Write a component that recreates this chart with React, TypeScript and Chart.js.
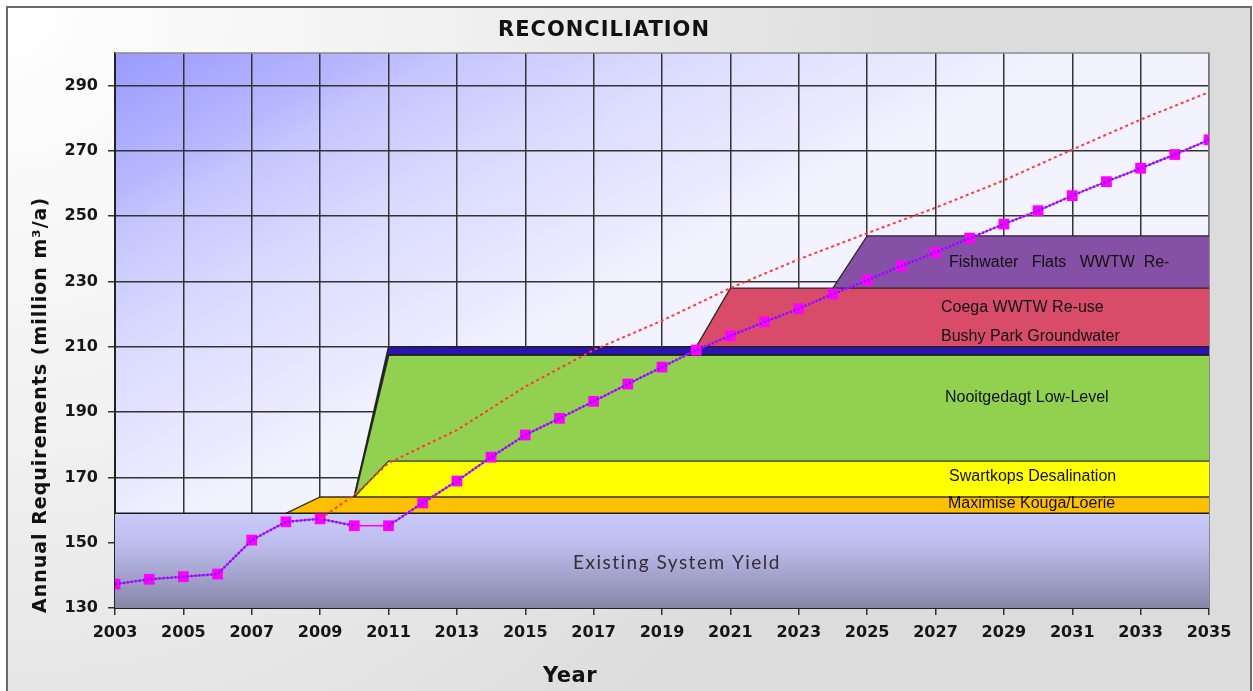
import React, { useEffect, useRef } from "react";
import { Chart, registerables } from "chart.js";

Chart.register(...registerables);

// ---------- data ----------
const demandYears = [
  2003, 2004, 2005, 2006, 2007, 2008, 2009, 2010, 2011, 2012, 2013, 2014, 2015, 2016, 2017, 2018, 2019,
  2020, 2021, 2022, 2023, 2024, 2025, 2026, 2027, 2028, 2029, 2030, 2031, 2032, 2033, 2034, 2035,
];
const demand = [
  137.3, 138.8, 139.6, 140.4, 150.8, 156.4, 157.3, 155.2, 155.2, 162.2, 168.9, 176.2, 183.0, 188.1, 193.3,
  198.6, 203.8, 209.0, 213.4, 217.6, 221.7, 226.2, 230.4, 234.8, 238.9, 243.3, 247.6, 251.7, 256.3, 260.6,
  264.7, 268.9, 273.4,
];
const highYears = [2009, 2010, 2011, 2013, 2015, 2017, 2019, 2021, 2023, 2025, 2027, 2029, 2031, 2033, 2035];
const highDemand = [157.3, 164.6, 174.4, 184.5, 197.8, 209.0, 218.0, 228.0, 236.8, 244.8, 252.6, 261.0, 270.4, 279.6, 288.0];

const existingYears = [2003, 2035];
const existingTop = [159, 159];
const kougaYears = [2008, 2009, 2035];
const kougaTop = [159, 164, 164];
const swartkopsYears = [2010, 2011, 2035];
const swartkopsTop = [164, 175, 175];
const nooitgedagtYears = [2010, 2011, 2035];
const nooitgedagtTop = [164, 207.5, 207.5];
const bushyYears = [2010, 2011, 2035];
const bushyTop = [164, 210, 210];
const coegaYears = [2020, 2021, 2035];
const coegaTop = [210, 228, 228];
const fishwaterYears = [2024, 2025, 2035];
const fishwaterTop = [228, 244, 244];

const yTicks = [130, 150, 170, 190, 210, 230, 250, 270, 290];
const xMin = 2003;
const xMax = 2035;
const yMin = 130;
const yMax = 300;

const chartTitle = "RECONCILIATION";
const xTitle = "Year";
const yTitle = "Annual Requirements (million m³/a)";

const toPoints = (xs: number[], ys: number[]) => xs.map((x, i) => ({ x, y: ys[i] }));

const W = 1253;
const H = 691;

const backgroundPlugin = {
  id: "bgPlugin",
  beforeDraw(chart: any) {
    const { ctx, chartArea: a } = chart;
    ctx.save();
    ctx.fillStyle = "#ffffff";
    ctx.fillRect(0, 0, W, H);
    const rg = ctx.createRadialGradient(7, 7, 0, 7, 7, 950);
    rg.addColorStop(0, "#ffffff");
    rg.addColorStop(0.45, "#f1f1f1");
    rg.addColorStop(1, "#dcdcdc");
    ctx.fillStyle = rg;
    ctx.fillRect(7, 7, W - 9, H);
    ctx.strokeStyle = "#6a6a6a";
    ctx.lineWidth = 2;
    ctx.strokeRect(7, 7, 1244, 720);

    const lg = ctx.createLinearGradient(a.left, a.top, a.left + 211, a.top + 397);
    lg.addColorStop(0, "#9a9aff");
    lg.addColorStop(0.28, "#b8b8ff");
    lg.addColorStop(0.36, "#c6c6ff");
    lg.addColorStop(0.59, "#dadaff");
    lg.addColorStop(0.87, "#eaeaff");
    lg.addColorStop(1, "#f3f3ff");
    ctx.fillStyle = lg;
    ctx.fillRect(a.left, a.top, a.right - a.left, a.bottom - a.top);
    ctx.restore();
  },
  beforeDatasetsDraw(chart: any) {
    const { ctx, chartArea: a } = chart;
    ctx.save();
    ctx.strokeStyle = "#8a8a8a";
    ctx.lineWidth = 1.5;
    ctx.beginPath();
    ctx.moveTo(a.left, a.top);
    ctx.lineTo(a.right, a.top);
    ctx.lineTo(a.right, a.bottom);
    ctx.stroke();
    ctx.restore();
  },
  afterDatasetsDraw(chart: any) {
    const { ctx } = chart;
    ctx.save();
    ctx.textBaseline = "middle";
    ctx.textAlign = "left";
    ctx.fillStyle = "#111111";
    ctx.font = '16px "Liberation Sans", Arial, sans-serif';
    ctx.fillText("Fishwater   Flats   WWTW  Re-", 949, 263);
    ctx.fillText("Coega WWTW Re-use", 941, 308);
    ctx.fillText("Bushy Park Groundwater", 941, 337);
    ctx.fillText("Nooitgedagt Low-Level", 945, 398);
    ctx.fillText("Swartkops Desalination", 949, 477);
    ctx.fillText("Maximise Kouga/Loerie", 948, 504);

    ctx.textAlign = "center";
    ctx.fillStyle = "#3a2c36";
    ctx.font = '19px Lato, sans-serif';
    (ctx as any).letterSpacing = "1.5px";
    ctx.fillText("Existing System Yield", 677, 563);
    ctx.restore();
  },
  afterDraw(chart: any) {
    const { ctx } = chart;
    ctx.save();
    ctx.fillStyle = "#111111";
    ctx.textAlign = "center";
    ctx.textBaseline = "alphabetic";
    (ctx as any).letterSpacing = "1px";
    ctx.font = 'bold 21px "DejaVu Sans", sans-serif';
    ctx.fillText(chartTitle, 604, 36);
    (ctx as any).letterSpacing = "0.5px";
    ctx.font = 'bold 21px "DejaVu Sans", sans-serif';
    ctx.fillText(xTitle, 570, 682);
    ctx.translate(46, 405);
    ctx.rotate(-Math.PI / 2);
    (ctx as any).letterSpacing = "1px";
    ctx.font = 'bold 19px "DejaVu Sans", sans-serif';
    ctx.fillText(yTitle, 0, 0);
    ctx.restore();
  },
};

const areaStyle = (color: string, fill: any) => ({
  type: "line" as const,
  backgroundColor: color,
  borderColor: "rgba(30,30,30,0.9)",
  borderWidth: 1.3,
  pointRadius: 0,
  fill,
  tension: 0,
});

export default function App() {
  const ref = useRef<HTMLCanvasElement | null>(null);

  useEffect(() => {
    if (!ref.current) return;
    const existingGradient = (c: any) => {
      const chart = c.chart;
      const { chartArea, scales } = chart;
      if (!chartArea || !scales.y) return "#b4b4e4";
      const g = chart.ctx.createLinearGradient(0, scales.y.getPixelForValue(159), 0, chartArea.bottom);
      g.addColorStop(0, "#cbcbfb");
      g.addColorStop(0.35, "#bcbcec");
      g.addColorStop(1, "#8686a8");
      return g;
    };

    const chart = new Chart(ref.current, {
      type: "line",
      data: {
        datasets: [
          {
            label: "High demand",
            data: toPoints(highYears, highDemand),
            borderColor: "#ff3b3b",
            borderWidth: 2,
            borderDash: [3, 3],
            pointRadius: 0,
            fill: false,
          },
          {
            label: "Demand (dots)",
            data: toPoints(demandYears, demand),
            borderColor: "#6a1cff",
            borderWidth: 2.5,
            borderDash: [2, 2],
            pointRadius: 0,
            fill: false,
            segment: {
              borderColor: (c: any) => (c.p0.parsed.x === 2010 ? "rgba(0,0,0,0)" : "#6a1cff"),
            },
          },
          {
            label: "Demand",
            data: toPoints(demandYears, demand),
            borderColor: "#ff00ff",
            borderWidth: 1.5,
            pointStyle: "rect",
            pointRadius: 7.6,
            pointBackgroundColor: "#ff00ff",
            pointBorderWidth: 0,
            fill: false,
          },
          { label: "Existing System Yield", data: toPoints(existingYears, existingTop), ...areaStyle("#b4b4e4", "start"), backgroundColor: existingGradient, borderColor: "#1a1a1a", borderWidth: 1.6 },
          { label: "Maximise Kouga/Loerie", data: toPoints(kougaYears, kougaTop), ...areaStyle("#ffc000", "-1") },
          { label: "Swartkops Desalination", data: toPoints(swartkopsYears, swartkopsTop), ...areaStyle("#ffff00", "-1") },
          { label: "Nooitgedagt Low-Level", data: toPoints(nooitgedagtYears, nooitgedagtTop), ...areaStyle("#92d050", "-1"), borderWidth: 2 },
          { label: "Bushy Park Groundwater", data: toPoints(bushyYears, bushyTop), ...areaStyle("#2a14b0", "-1"), borderWidth: 1.5 },
          { label: "Coega WWTW Re-use", data: toPoints(coegaYears, coegaTop), ...areaStyle("#d84c69", "-1") },
          { label: "Fishwater Flats WWTW Re-use", data: toPoints(fishwaterYears, fishwaterTop), ...areaStyle("#8650a6", "-1") },
        ] as any,
      },
      plugins: [backgroundPlugin],
      options: {
        responsive: false,
        animation: false,
        devicePixelRatio: 1,
        layout: { padding: { left: 0, top: 53, right: 44, bottom: 33 } },
        plugins: {
          legend: { display: false },
          tooltip: { enabled: false },
          title: { display: false },
        },
        scales: {
          x: {
            type: "linear",
            min: xMin,
            max: xMax,
            afterFit: (s: any) => {
              s.height = 50;
            },
            ticks: {
              stepSize: 2,
              autoSkip: false,
              maxRotation: 0,
              padding: 8,
              color: "#161616",
              font: { family: "DejaVu Sans", weight: "bold", size: 16 },
              callback: (v: any) => String(v),
            },
            grid: { color: "#333333", lineWidth: 1.5, tickLength: 7, drawTicks: true },
            border: { display: true, color: "#222222", width: 2 },
          },
          y: {
            type: "linear",
            min: yMin,
            max: yMax,
            afterFit: (s: any) => {
              s.width = 115;
            },
            afterBuildTicks: (s: any) => {
              s.ticks = yTicks.map((v) => ({ value: v }));
            },
            ticks: {
              padding: 10,
              color: "#161616",
              font: { family: "DejaVu Sans", weight: "bold", size: 16 },
              callback: (v: any) => String(v),
            },
            grid: { color: "#333333", lineWidth: 1.5, tickLength: 7, drawTicks: true },
            border: { display: true, color: "#222222", width: 2 },
          },
        },
      } as any,
    });
    return () => chart.destroy();
  }, []);

  return (
    <div style={{ position: "absolute", left: 0, top: 0, width: W, height: H }}>
      <canvas ref={ref} width={W} height={H} style={{ display: "block", width: W, height: H }} />
    </div>
  );
}
